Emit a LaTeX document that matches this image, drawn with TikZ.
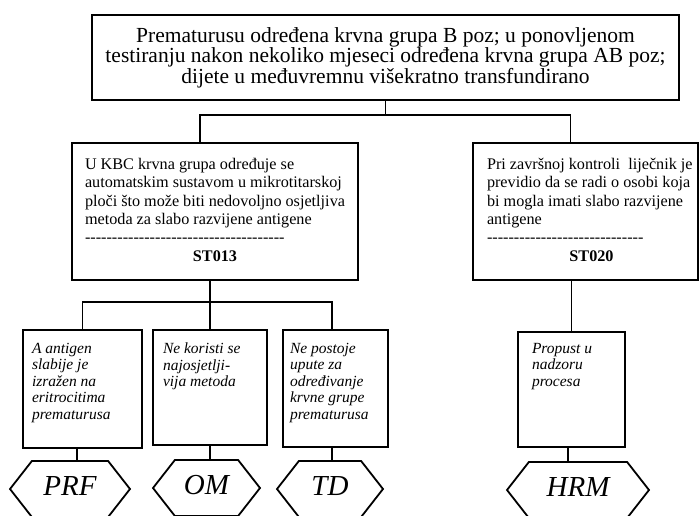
\documentclass[tikz,border=0pt]{standalone}
\usepackage{fontspec}
\setmainfont{Liberation Serif}
\usetikzlibrary{shapes.symbols}
\newcommand{\hyphens}[1]{\foreach \n in {1,...,#1}{-\kern0pt}}
\newcommand{\toptext}[3]{\parbox[c][#2][t]{#1}{#3}}

\begin{document}
\begin{tikzpicture}[x=1pt, y=-1pt,
    box/.style={draw, line width=1.8pt, inner sep=0pt, align=center},
    event/.style={box, font=\fontsize{16.2}{18.4}\selectfont, inner xsep=13pt, inner ysep=15pt},
    cause/.style={box, font=\fontsize{15.5}{16.5}\selectfont\itshape, inner ysep=13pt},
    hexa/.style={draw, line width=1.8pt, shape=signal, signal to=west and east, signal pointer angle=104,
      minimum height=56pt, inner sep=0pt, text height=20pt, text depth=8pt, font=\fontsize{29}{29}\selectfont\itshape},
    link/.style={line width=1.8pt}
  ]
    \useasboundingbox (0,0) rectangle (699,516);
    \node[box, minimum width=587pt, minimum height=85pt, font=\fontsize{21.5}{20.5}\selectfont] (top) at (385.5,57.5)
      {Prematurusu određena krvna grupa B poz; u ponovljenom\\testiranju nakon nekoliko mjeseci određena krvna grupa AB poz;\\dijete u međuvremnu višekratno transfundirano};
    \node[event] (st013) at (215,211.5) {\toptext{260pt}{107pt}{\raggedright
      U KBC krvna grupa određuje se\\automatskim sustavom u mikrotitarskoj\\ploči što može biti nedovoljno osjetljiva\\metoda za slabo razvijene antigene\\\hyphens{37}\par
      \centering\textbf{ST013}}};
    \node[event, inner xsep=5pt] (st020) at (585.5,211.5) {\toptext{215pt}{107pt}{\raggedright\leftskip=9pt
      Pri završnoj kontroli\ \ liječnik je\\previdio da se radi o osobi koja\\bi mogla imati slabo razvijene\\antigene\\\hyphens{29}\par
      \centering\hspace*{12pt}\textbf{ST020}}};

    \node[cause, inner xsep=9pt] (rf1) at (82.5,389) {\toptext{101pt}{92pt}{\raggedright
      A antigen\\slabije je\\izražen na\\eritrocitima\\prematurusa}};
    \node[cause, inner xsep=10pt] (rf2) at (210,387.5) {\toptext{94pt}{89pt}{\raggedright
      Ne koristi se\\najosjetlji-\\vija metoda}};
    \node[cause, inner xsep=7pt] (rf3) at (335.5,388.5) {\toptext{91pt}{91pt}{\raggedright
      Ne postoje\\upute za\\određivanje\\krvne grupe\\prematurusa}};
    \node[cause, inner xsep=14pt, inner ysep=11pt] (prop) at (571.5,389.5) {\toptext{79pt}{93pt}{\raggedright
      Propust u\\nadzoru\\procesa}};

    \node[hexa, minimum width=120pt] (prf) at (70,489) {PRF};
    \node[hexa, minimum width=107pt] (om) at (206.5,488) {OM};
    \node[hexa, minimum width=106pt] (td) at (330,489) {TD};
    \node[hexa, minimum width=142pt] (hrm) at (578,490) {HRM};

    % top level
    \coordinate (fork) at (top.south |- 0,115);
    \draw[link] (top.south) -- (fork);
    \draw[link] ([xshift=-15pt]st013.north) |- (fork) -| ([xshift=-15pt]st020.north);

    % causes of ST013
    \coordinate (fork2) at ([xshift=-5pt]st013.south |- 0,302);
    \draw[link] ([xshift=-5pt]st013.south) -- (fork2);
    \draw[link] (rf1.north) |- (fork2) -| ([xshift=-3.5pt]rf3.north);
    \draw[link] (rf2.north) -- (rf2.north |- fork2);
    \draw[link] (st020.south -| prop.north) -- (prop.north);

    % causes to codes
    \draw[link] ([xshift=-5.5pt]rf1.south) -- ([xshift=-5.5pt]rf1.south |- prf.north);
    \draw[link] (rf2.south) -- (rf2.south |- om.north);
    \draw[link] ([xshift=-3.5pt]rf3.south) -- ([xshift=-3.5pt]rf3.south |- td.north);
    \draw[link] ([xshift=-3.5pt]prop.south) -- ([xshift=-3.5pt]prop.south |- hrm.north);
\end{tikzpicture}
\end{document}
